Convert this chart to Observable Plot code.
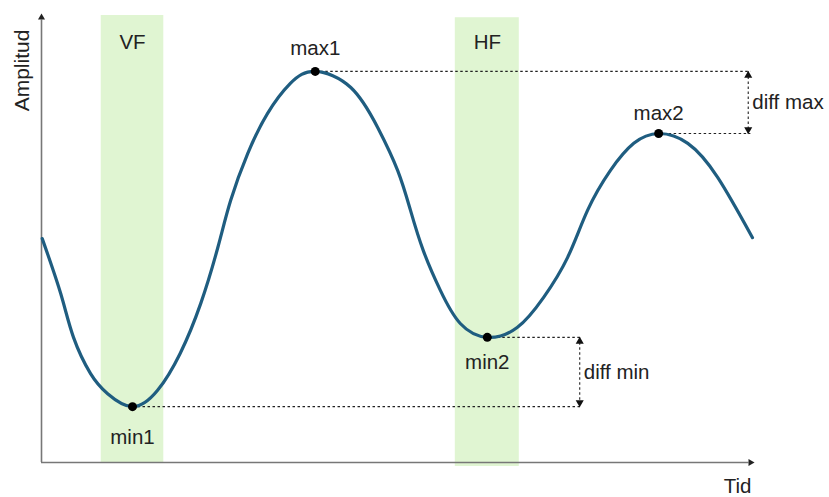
<!DOCTYPE html>
<html>
<head>
<meta charset="utf-8">
<script src="https://cdn.jsdelivr.net/npm/d3@7"></script>
<script src="https://cdn.jsdelivr.net/npm/@observablehq/plot@0.6"></script>
<style>
  html, body { margin: 0; padding: 0; background: #fff; }
  #chart svg { display: block; }
</style>
</head>
<body>
<div id="chart"></div>
<script>
// Curve samples (time, amplitude)
const curveT = [0.1, 2.7, 4.5, 6.9, 9.3, 12.8, 16.3, 19.5, 22.4, 24.8, 26.6, 29.0, 31.8, 35.0, 38.5,
                43.5, 47.3, 50.1, 51.9, 53.7, 56.1, 58.9, 62.7, 66.9, 70.6, 74.0, 76.8, 80.0, 83.3, 86.8,
                90.9, 95.1, 100];
const curveA = [50.1, 37.8, 28.0, 19.9, 15.4, 12.5, 16.1, 24.4, 35.6, 48.1, 58.6, 69.1, 78.1, 84.8, 87.5,
                83.9, 74.9, 65.3, 56.4, 47.4, 38.5, 31.1, 28.0, 30.2, 36.9, 45.9, 56.4, 65.3, 71.4, 73.6,
                71.4, 63.8, 50.3];

// Extremes
const extremeNames = ["min1", "max1", "min2", "max2"];
const extremeT = [12.8, 38.5, 62.7, 86.8];
const extremeA = [12.5, 87.5, 28.0, 73.6];

// Shaded bands
const bandNames = ["VF", "HF"];
const bandT1 = [8.4, 58.2];
const bandT2 = [17.2, 67.2];
const bandA1 = [0, -0.9];
const bandA2 = [100, 99.5];

// Difference markers
const diffNames = ["diff max", "diff min"];
const diffT = [99.4, 75.7];
const diffLineEnd = [99.7, 75.8];

const curve = curveT.map((t, i) => ({t, a: curveA[i]}));
const extremes = extremeNames.map((n, i) => ({name: n, t: extremeT[i], a: extremeA[i]}));
const bands = bandNames.map((n, i) => ({name: n, t1: bandT1[i], t2: bandT2[i], a1: bandA1[i], a2: bandA2[i]}));
const ex = Object.fromEntries(extremes.map(d => [d.name, d]));

// horizontal dotted guide lines
const guides = [
  {t1: ex.max1.t, t2: diffLineEnd[0], a: ex.max1.a},
  {t1: ex.max2.t, t2: diffLineEnd[0], a: ex.max2.a},
  {t1: ex.min2.t, t2: diffLineEnd[1], a: ex.min2.a},
  {t1: ex.min1.t, t2: diffLineEnd[1], a: ex.min1.a}
];
const diffs = [
  {name: diffNames[0], t: diffT[0], top: ex.max1.a, bottom: ex.max2.a},
  {name: diffNames[1], t: diffT[1], top: ex.min2.a, bottom: ex.min1.a}
];

const labelOffsets = {min1: -6.9, max1: 5.1, min2: -5.6, max2: 4.5};
const fs = 20.5;

const chart = Plot.plot({
  width: 829,
  height: 497,
  marginLeft: 41,
  marginRight: 77,
  marginTop: 15,
  marginBottom: 35,
  x: {domain: [0, 100], axis: null},
  y: {domain: [0, 100], axis: null},
  style: {fontFamily: "'Liberation Sans', Arial, Helvetica, sans-serif", color: "#222"},
  marks: [
    Plot.rect(bands, {x1: "t1", x2: "t2", y1: "a1", y2: "a2", fill: "#e0f5d2"}),
    Plot.text(bands, {x: d => (d.t1 + d.t2) / 2, y: 94, text: "name", fontSize: fs, fill: "#222"}),
    // axes
    Plot.ruleX([0], {y1: 0, y2: 99, stroke: "#777", strokeWidth: 1.6}),
    Plot.ruleY([0], {x1: 0, x2: 99.5, stroke: "#777", strokeWidth: 1.6}),
    Plot.dot([{t: 0, a: 100}], {x: "t", y: "a", symbol: "triangle", r: 2.6, fill: "#222", stroke: null, dy: 2}),
    Plot.dot([{t: 100, a: 0}], {x: "t", y: "a", symbol: "triangle", r: 2.6, fill: "#222", stroke: null, rotate: 90, dx: -2}),
    // dotted guides
    Plot.link(guides, {x1: "t1", x2: "t2", y1: "a", y2: "a", stroke: "#222", strokeWidth: 1.1, strokeDasharray: "2.5,2.5"}),
    Plot.link(diffs, {x1: "t", x2: "t", y1: "top", y2: "bottom", stroke: "#222", strokeWidth: 1.1, strokeDasharray: "2.5,2.5"}),
    Plot.dot(diffs, {x: "t", y: "top", symbol: "triangle", r: 3, fill: "#111", stroke: null, dy: 4}),
    Plot.dot(diffs, {x: "t", y: "bottom", symbol: "triangle", r: 3, fill: "#111", stroke: null, rotate: 180, dy: -4}),
    Plot.text(diffs, {x: "t", y: d => (d.top + d.bottom) / 2, text: "name", textAnchor: "start", dx: 4, fontSize: fs, fill: "#222"}),
    // curve
    Plot.line(curve, {x: "t", y: "a", curve: "natural", stroke: "#1f5d80", strokeWidth: 3.2}),
    Plot.dot(extremes, {x: "t", y: "a", r: 4.5, fill: "#000", stroke: null}),
    Plot.text(extremes, {x: "t", y: d => d.a + labelOffsets[d.name], text: "name", fontSize: fs, fill: "#222"}),
    // axis titles
    Plot.text(["Amplitud"], {x: -2.7, y: 87.7, text: d => d, rotate: -90, fontSize: 21, fill: "#222"}),
    Plot.text(["Tid"], {x: 97.9, y: -5.3, text: d => d, fontSize: fs, fill: "#222"})
  ]
});
document.getElementById("chart").append(chart);
</script>
</body>
</html>
